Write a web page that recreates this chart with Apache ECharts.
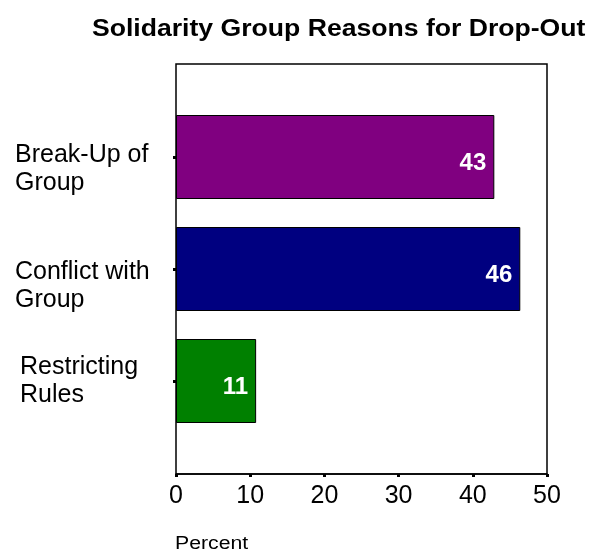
<!DOCTYPE html>
<html><head><meta charset="utf-8">
<script src="https://cdn.jsdelivr.net/npm/echarts@6/dist/echarts.min.js"></script>
<style>html,body{margin:0;padding:0;background:#fff}#c{width:591px;height:551px}</style>
</head><body><div id="c"></div>
<script>
var categories = ['Break-Up of\nGroup', 'Conflict with\nGroup', 'Restricting\nRules'];
var values = [42.9, 46.4, 10.8];
var labels = [43, 46, 11];
var colors = ['#800080', '#000080', '#008000'];
var xTicks = [0, 10, 20, 30, 40, 50];
var titleText = 'Solidarity Group Reasons for Drop-Out';
var xName = 'Percent';

var FONT = '"Liberation Sans", Arial, Helvetica, sans-serif';
var chart = echarts.init(document.getElementById('c'), null, {renderer: 'canvas'});
var L = 176, R = 591 - 547, T = 64, B = 551 - 474;
// per-category label style: spacer height (shifts block down by half), left indent
var spacer = [24, 34, 0];
var indent = [0, 0, 5];
chart.setOption({
  animation: false,
  backgroundColor: '#fff',
  graphic: [
    {type: 'text', x: 92, y: 30, scaleX: 1.156,
     style: {text: titleText, x: 0, y: 0, align: 'left', verticalAlign: 'middle',
       font: 'bold 23px ' + FONT, fill: '#000'}},
    {type: 'text', x: 175, y: 544, scaleX: 1.18,
     style: {text: xName, x: 0, y: 0, align: 'left', verticalAlign: 'middle',
       font: '18px ' + FONT, fill: '#000'}}
  ],
  grid: [
    {left: L, right: R, top: T, bottom: B, show: true, borderColor: '#000', borderWidth: 1.5,
     backgroundColor: 'transparent', containLabel: false, outerBoundsMode: 'none'},
    {left: L, right: R, top: 101, bottom: 551 - 437, containLabel: false, outerBoundsMode: 'none'}
  ],
  xAxis: [
    {gridIndex: 0, type: 'value', min: 0, max: 50, interval: 10,
     axisLine: {show: true, lineStyle: {color: '#000', width: 1.5}},
     axisTick: {show: true, length: 3, lineStyle: {color: '#000', width: 3}},
     splitLine: {show: false},
     axisLabel: {color: '#000', fontFamily: FONT, fontSize: 25, margin: 10,
       formatter: function (v) { return xTicks.indexOf(v) >= 0 ? String(v) : ''; }}},
    {gridIndex: 1, type: 'value', min: 0, max: 50, show: false}
  ],
  yAxis: [
    {gridIndex: 0, type: 'value', show: false, min: 0, max: 1},
    {gridIndex: 1, type: 'category', inverse: true,
     data: categories,
     axisLine: {show: false},
     axisTick: {show: true, alignWithLabel: true, length: 3, lineStyle: {color: '#000', width: 3}},
     axisLabel: {color: '#000', fontFamily: FONT, fontSize: 25, align: 'left',
       verticalAlign: 'middle', margin: 161,
       formatter: function (v, i) {
         var idx = categories.indexOf(v);
         var lines = v.split('\n').map(function (s) { return '{t' + idx + '|' + s + '}'; });
         if (spacer[idx] > 0) lines.unshift('{sp' + idx + '| }');
         return lines.join('\n');
       },
       rich: {
         t0: {fontFamily: FONT, fontSize: 25, lineHeight: 28, color: '#000', padding: [0, 0, 0, indent[0]]},
         t1: {fontFamily: FONT, fontSize: 25, lineHeight: 28, color: '#000', padding: [0, 0, 0, indent[1]]},
         t2: {fontFamily: FONT, fontSize: 25, lineHeight: 28, color: '#000', padding: [0, 0, 0, indent[2]]},
         sp0: {fontSize: 2, lineHeight: spacer[0]},
         sp1: {fontSize: 2, lineHeight: spacer[1]},
         sp2: {fontSize: 2, lineHeight: spacer[2]}
       }}}
  ],
  series: [{
    type: 'bar', xAxisIndex: 1, yAxisIndex: 1,
    barCategoryGap: '25%',
    data: values.map(function (v, i) {
      return {value: v, itemStyle: {color: colors[i]}};
    }),
    itemStyle: {borderColor: '#000', borderWidth: 1},
    label: {show: true, position: 'insideRight', distance: 8, offset: [0, 6],
      color: '#fff', fontFamily: FONT, fontWeight: 'bold', fontSize: 24,
      formatter: function (p) { return String(labels[p.dataIndex]); }}
  }]
});
</script></body></html>
